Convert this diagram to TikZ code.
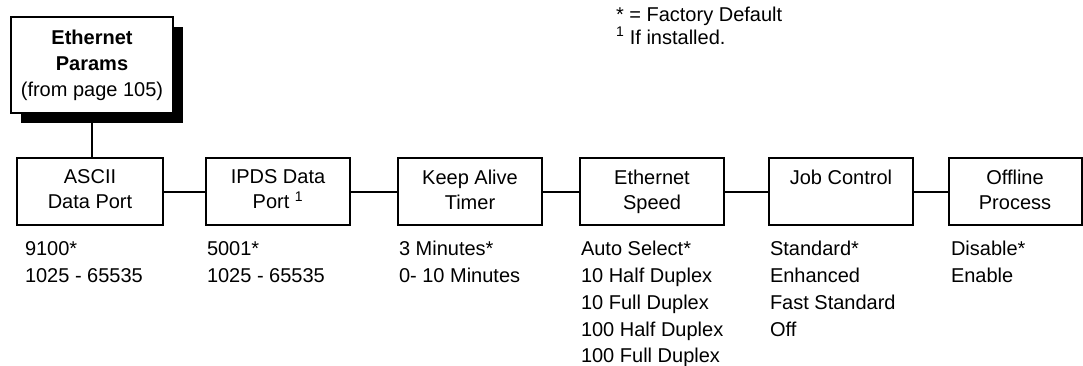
\documentclass[tikz,border=0pt]{standalone}
\usepackage{fontspec}
\setmainfont{Liberation Sans}
\usepackage{tikz}
\usetikzlibrary{positioning, shadows}

\begin{document}
\begin{tikzpicture}[
    x=1pt, y=-1pt, line width=2pt,
    menubox/.style={rectangle, draw, minimum height=67pt, inner sep=0pt, align=center,
        font=\fontsize{20}{25}\selectfont, execute at end node={\vphantom{p}}},
    topbox/.style={menubox, fill=white, minimum width=162pt, minimum height=96pt,
        font=\fontsize{20}{26}\selectfont, execute at end node={},
        drop shadow={shadow xshift=10pt, shadow yshift=-10pt, fill=black, opacity=1}},
    opts/.style={anchor=north west, inner sep=0pt, align=left, font=\fontsize{20}{26.7}\selectfont},
    link/.style={draw, line width=2pt}
]
    \useasboundingbox (0,0) rectangle (1083,366);

    % legend
    \node[anchor=north west, inner sep=0pt, align=left, font=\fontsize{20}{23}\selectfont]
        (legend) at (615,6) {* = Factory Default\\\textsuperscript{1} If installed.};

    % menu entry
    \node[topbox] (params) at (92,65) {\textbf{Ethernet}\\\textbf{Params}\\(from page 105)};

    % sub menus
    \node[menubox, minimum width=146pt] (ascii)   at (90,191.5)   {ASCII\\Data Port};
    \node[menubox, minimum width=144pt] (ipds)    at (278,191.5)  {IPDS Data\\Port \textsuperscript{1}};
    \node[menubox, minimum width=144pt] (alive)   at (470,191.5)  {Keep Alive\\Timer};
    \node[menubox, minimum width=144pt] (speed)   at (652,191.5)  {Ethernet\\Speed};
    \node[menubox, minimum width=144pt] (jobctl)  at (841,191.5)  {Job Control\\\mbox{}};
    \node[menubox, minimum width=133pt] (offline) at (1015,191.5) {Offline\\Process};

    \path[link]
        (params.south) edge (params.south |- ascii.north)
        (ascii) edge (ipds)
        (ipds) edge (alive)
        (alive) edge (speed)
        (speed) edge (jobctl)
        (jobctl) edge (offline);

    % choices
    \node[opts] (asciiopt)   at (24,240.5)  {9100*\\1025 - 65535};
    \node[opts] (ipdsopt)    at (206,240.5) {5001*\\1025 - 65535};
    \node[opts] (aliveopt)   at (398,240.5) {3 Minutes*\\0- 10 Minutes};
    \node[opts] (speedopt)   at (580,240.5) {Auto Select*\\10 Half Duplex\\10 Full Duplex\\100 Half Duplex\\100 Full Duplex};
    \node[opts] (jobctlopt)  at (769,240.5) {Standard*\\Enhanced\\Fast Standard\\Off};
    \node[opts] (offlineopt) at (950,240.5) {Disable*\\Enable};
\end{tikzpicture}
\end{document}
